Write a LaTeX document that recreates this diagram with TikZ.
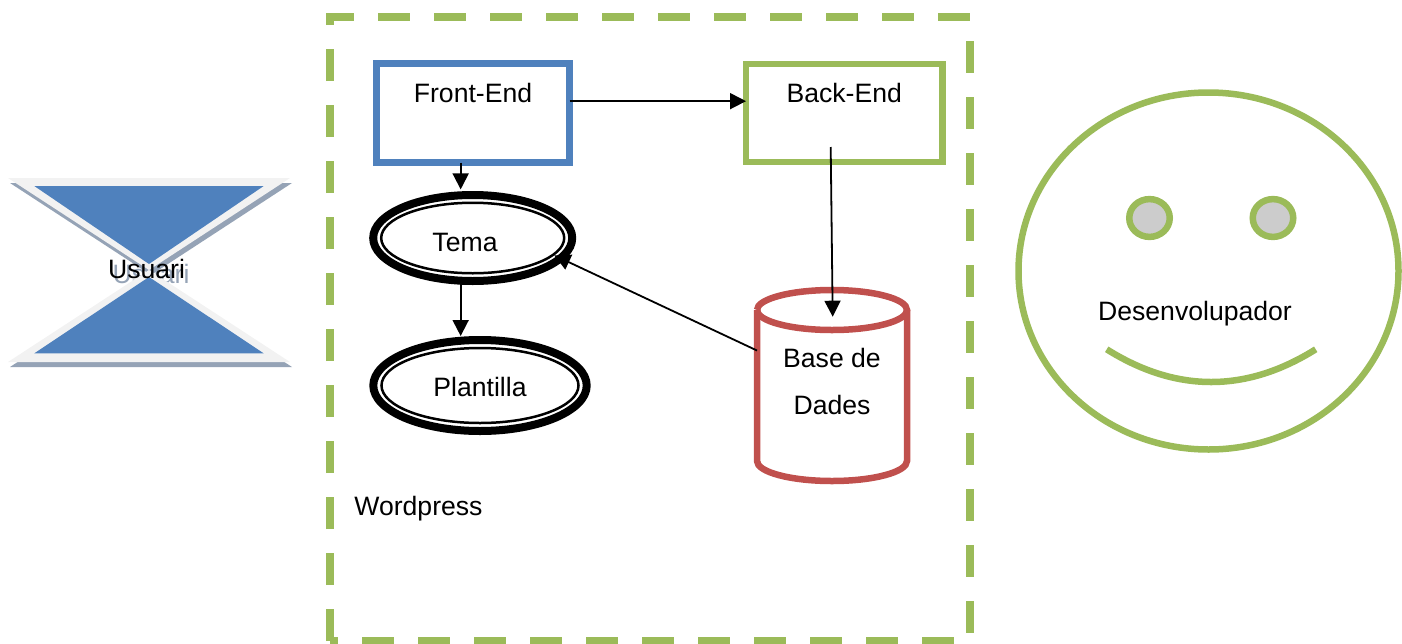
\documentclass[tikz,border=0pt]{standalone}
\usepackage{fontspec}
\setmainfont{Liberation Sans}
\usetikzlibrary{shapes.geometric,arrows.meta}
\definecolor{wpgreen}{HTML}{9BBB59}
\definecolor{wpblue}{HTML}{4F81BD}
\definecolor{wpred}{HTML}{C0504D}
\definecolor{wpshadow}{HTML}{95A3B6}
\definecolor{wpbevel}{HTML}{F2F2F2}
\tikzset{
  txt/.style={inner sep=0pt,anchor=base,font=\fontsize{13.3pt}{15pt}\selectfont},
  box/.style={draw,line width=3.25pt,inner sep=0pt,outer sep=0pt,font=\fontsize{13.3pt}{15pt}\selectfont},
  ringout/.style={draw,ellipse,line width=4pt,inner sep=0pt},
  ringin/.style={draw,ellipse,line width=1.25pt,inner sep=0pt,font=\fontsize{13.3pt}{15pt}\selectfont},
  eye/.style={draw=wpgreen,fill=black!20,ellipse,line width=3.25pt,inner sep=0pt,minimum width=20.25pt,minimum height=18.9pt},
  link/.style={draw,line width=.9pt,-{Triangle[length=8pt,width=8pt]}}
}
\begin{document}
\begin{tikzpicture}[x=.5pt,y=-.5pt]
\useasboundingbox (0,0) rectangle (1402,643);
\draw[wpgreen,line width=4pt,dash pattern=on 16pt off 12pt] (330,641) -- (330,17) -- (970,17) -- (970,641) -- cycle;
\node[txt,anchor=base west] (wordpress) at (354,515) {Wordpress};
\fill[wpshadow] (10,183) -- (292,183) -- (151,275) -- (292,367) -- (10,367) -- (151,275) -- cycle;
\node[txt,text=wpshadow] (usuarishadow) at (151,283.3) {Usuari};
\fill[wpbevel] (8,178) -- (290,178) -- (149,270) -- (290,362) -- (8,362) -- (149,270) -- cycle;
\fill[wpblue] (34.3,186) -- (263.7,186) -- (149,264) -- cycle;
\fill[wpblue] (34.3,353.3) -- (263.7,353.3) -- (149,277) -- cycle;
\node[txt] (usuari) at (146.5,278.1) {Usuari};
\node[box,draw=wpblue,minimum width=96.5pt,minimum height=49.5pt,text height=19.5pt,text depth=30pt] (frontend) at (473,113) {Front-End};
\node[box,draw=wpgreen,minimum width=98.25pt,minimum height=49pt,text height=19.25pt,text depth=29.75pt] (backend) at (844.25,113) {Back-End};
\node[ringout,minimum width=99.5pt,minimum height=43pt] (tema) at (472.7,238) {};
\node[ringin,minimum width=91.5pt,minimum height=35.25pt] (temain) at (472.7,238) {};
\node[txt] (tematext) at (465,251.5) {Tema};
\node[ringout,minimum width=106.7pt,minimum height=45.5pt] (plantilla) at (480,385.5) {};
\node[ringin,minimum width=98.5pt,minimum height=37.5pt,text height=10.5pt,text depth=0pt] (plantillain) at (480,385.5) {Plantilla};
\node[inner sep=0pt,outer sep=0pt,minimum width=75pt,minimum height=95.5pt] (base) at (832,385.5) {};
\draw[wpred,line width=3.25pt] ([yshift=-10pt]base.north west) arc[start angle=180,end angle=540,x radius=37.5pt,y radius=10pt];
\draw[wpred,line width=3.25pt] ([yshift=-10pt]base.north west) -- ([yshift=10pt]base.south west) arc[start angle=180,end angle=360,x radius=37.5pt,y radius=10pt] -- ([yshift=-10pt]base.north east);
\node[txt,align=center,font=\fontsize{13.3pt}{23.5pt}\selectfont] (basetext) at (832,414.8) {Base de\\Dades};
\coordinate (backdrop) at (830.7,147);
\coordinate (basein) at (832.7,316.7);
\draw[link] (frontend.7.1) -- (frontend.7.1 -| backend.west);
\draw[link,shorten >=.8pt] (frontend.256) -- (frontend.256 |- tema.north);
\draw[link,shorten <=-1pt] (frontend.256 |- tema.south) -- (frontend.256 |- plantilla.north);
\draw[link] (backdrop) -- (basein);
\draw[link] (base.155) -- (temain.-12.6);
\node[draw=wpgreen,ellipse,line width=3.25pt,inner sep=0pt,outer sep=0pt,minimum width=190pt,minimum height=178.5pt] (face) at (1208.5,271) {};
\node[eye] (lefteye) at (1149.5,218) {};
\node[eye] (righteye) at (1273,218) {};
\node[txt] (desenvolupador) at (1195,320.1) {Desenvolupador};
\draw[wpgreen,line width=3.25pt] (1106.7,349.3) .. controls (1176.2,392.9) and (1246.2,392.9) .. (1315.7,349.3);
\end{tikzpicture}
\end{document}
